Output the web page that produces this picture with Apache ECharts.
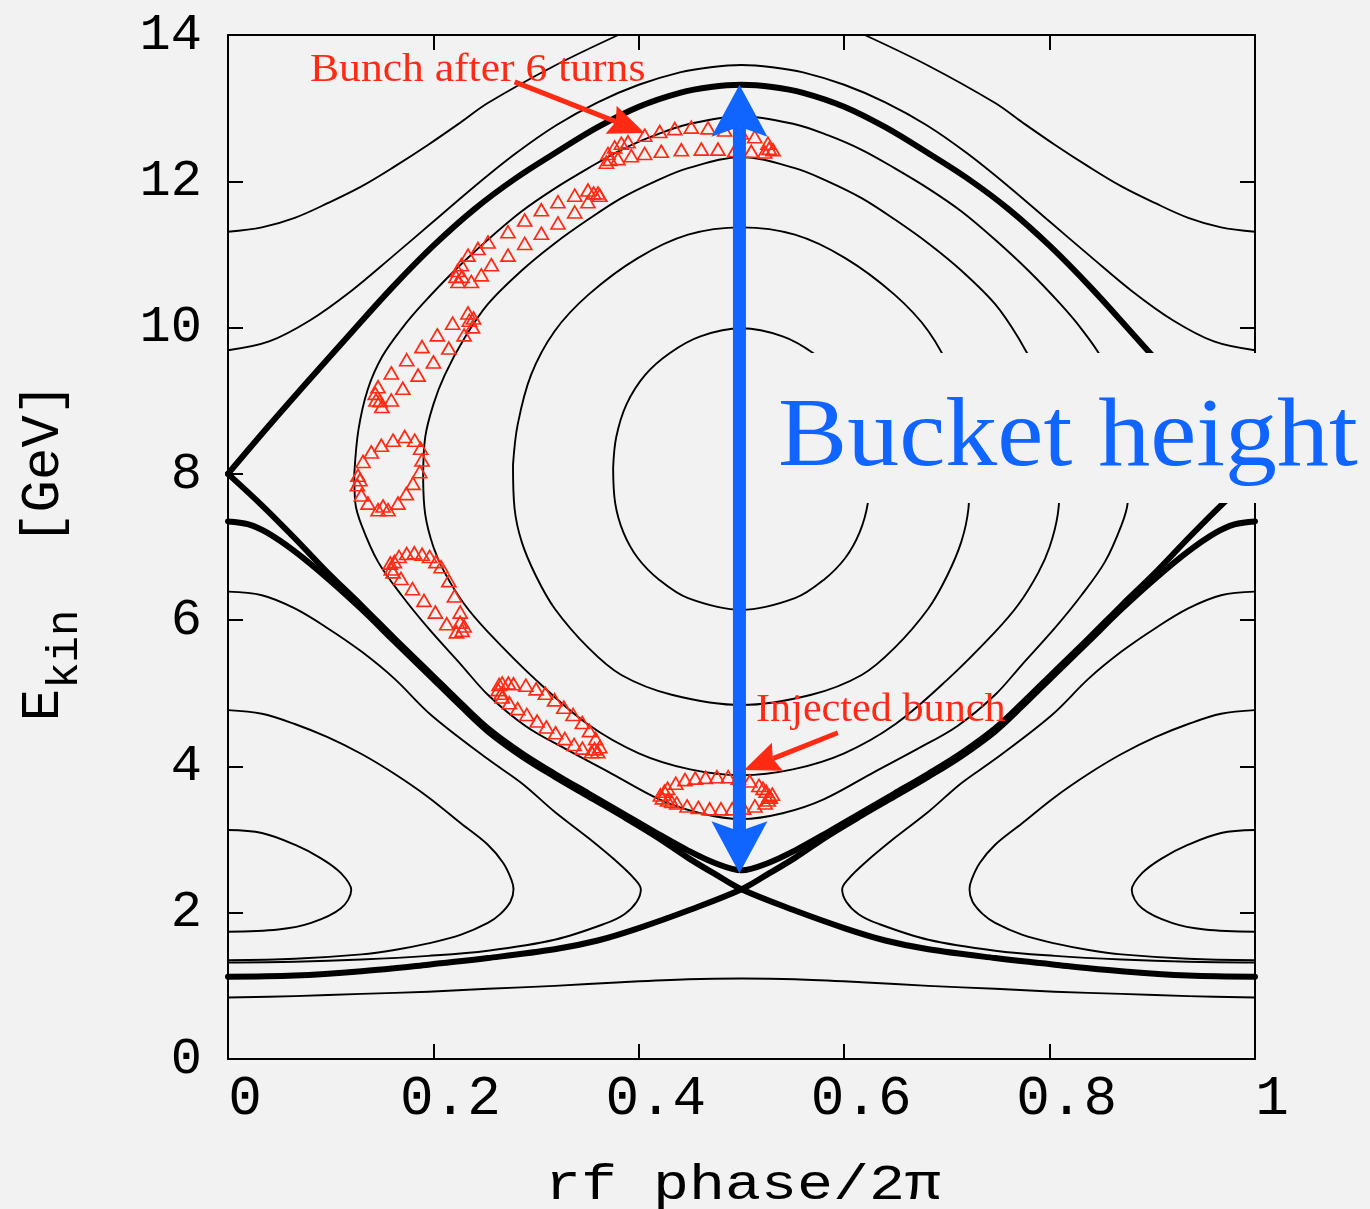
<!DOCTYPE html>
<html><head><meta charset="utf-8">
<script src="https://cdn.jsdelivr.net/npm/echarts@6/dist/echarts.min.js"></script>
<style>html,body{margin:0;padding:0;background:#f2f2f2;} #c{width:1370px;height:1209px;}</style>
</head><body><div id="c"></div>
<script>
// ---------- axis ticks ----------
const xTicks = [0, 0.2, 0.4, 0.6, 0.8, 1];
const yTicks = [0, 2, 4, 6, 8, 10, 12, 14];

// ---------- phase-space trajectories [phase/2pi, E_kin GeV] ----------
// passing orbits above the bucket
const passTopLeft = [[0,11.31],[0.033,11.37],[0.065,11.5],[0.097,11.7],[0.13,11.93],[0.162,12.2],[0.195,12.5],[0.227,12.81],[0.253,13.07],[0.318,13.58],[0.38,14.0]];
const passTopRight = [[0.62,14.0],[0.682,13.58],[0.747,13.07],[0.773,12.81],[0.805,12.5],[0.838,12.2],[0.87,11.93],[0.903,11.7],[0.935,11.5],[0.967,11.37],[1,11.31]];
const passUpper = [[0,9.69],[0.04,9.81],[0.08,10.1],[0.12,10.5],[0.16,10.97],[0.2,11.45],[0.24,11.93],[0.28,12.38],[0.32,12.77],[0.36,13.08],[0.4,13.32],[0.44,13.49],[0.47,13.56],[0.5,13.59],[0.53,13.56],[0.56,13.49],[0.6,13.32],[0.64,13.08],[0.68,12.77],[0.72,12.38],[0.76,11.93],[0.8,11.45],[0.84,10.97],[0.88,10.5],[0.92,10.1],[0.96,9.81],[1,9.69]];
// passing orbit below everything
const passLow = [[0,0.84],[0.065,0.86],[0.13,0.89],[0.195,0.92],[0.253,0.96],[0.318,1.0],[0.383,1.05],[0.448,1.09],[0.5,1.1],[0.552,1.09],[0.617,1.05],[0.682,1.0],[0.747,0.96],[0.805,0.92],[0.87,0.89],[0.935,0.86],[1,0.84]];

// separatrices (thick)
const sepBucketTop = [[0,8.0],[0.04,8.66],[0.08,9.3],[0.12,9.93],[0.16,10.55],[0.2,11.12],[0.24,11.62],[0.28,12.04],[0.32,12.4],[0.36,12.74],[0.4,13.02],[0.44,13.21],[0.47,13.29],[0.5,13.32],[0.53,13.29],[0.56,13.21],[0.6,13.02],[0.64,12.74],[0.68,12.4],[0.72,12.04],[0.76,11.62],[0.8,11.12],[0.84,10.55],[0.88,9.93],[0.92,9.3],[0.96,8.66],[1,8.0]];
const sepBucketBottom = [[0,8.0],[0.033,7.57],[0.065,7.12],[0.097,6.65],[0.13,6.2],[0.162,5.75],[0.195,5.3],[0.227,4.86],[0.253,4.52],[0.286,4.18],[0.318,3.9],[0.351,3.63],[0.383,3.37],[0.416,3.1],[0.448,2.85],[0.474,2.68],[0.5,2.58],[0.526,2.68],[0.552,2.85],[0.584,3.1],[0.617,3.37],[0.649,3.63],[0.682,3.9],[0.714,4.18],[0.747,4.52],[0.773,4.86],[0.805,5.3],[0.838,5.75],[0.87,6.2],[0.903,6.65],[0.935,7.12],[0.967,7.57],[1,8.0]];
const sepLowerA = [[0,7.35],[0.02,7.31],[0.039,7.19],[0.065,6.94],[0.097,6.57],[0.13,6.15],[0.162,5.71],[0.195,5.26],[0.227,4.82],[0.253,4.48],[0.286,4.14],[0.318,3.86],[0.351,3.59],[0.383,3.33],[0.416,3.05],[0.448,2.75],[0.474,2.53],[0.5,2.32],[0.55,2.04],[0.6,1.79],[0.64,1.62],[0.682,1.5],[0.747,1.38],[0.805,1.29],[0.87,1.2],[0.935,1.14],[1,1.125]];
const sepLowerB = [[0,1.125],[0.065,1.14],[0.13,1.2],[0.195,1.29],[0.253,1.38],[0.318,1.5],[0.36,1.62],[0.4,1.79],[0.45,2.04],[0.5,2.32],[0.526,2.53],[0.552,2.75],[0.584,3.05],[0.617,3.33],[0.649,3.59],[0.682,3.86],[0.714,4.14],[0.747,4.48],[0.773,4.82],[0.805,5.26],[0.838,5.71],[0.87,6.15],[0.903,6.57],[0.935,6.94],[0.961,7.19],[0.98,7.31],[1,7.35]];

// closed orbits inside the main bucket
const orbit1 = [[0.123,8.0],[0.127,8.6],[0.136,9.15],[0.15,9.6],[0.17,10.0],[0.19,10.33],[0.22,10.77],[0.253,11.2],[0.286,11.59],[0.318,11.9],[0.351,12.18],[0.383,12.43],[0.416,12.63],[0.448,12.78],[0.5,12.89],[0.552,12.78],[0.584,12.63],[0.617,12.43],[0.649,12.18],[0.682,11.9],[0.714,11.59],[0.747,11.2],[0.78,10.77],[0.81,10.33],[0.83,10.0],[0.85,9.6],[0.864,9.15],[0.873,8.6],[0.877,8.0],[0.876,7.6],[0.87,7.3],[0.854,6.8],[0.831,6.34],[0.805,5.89],[0.773,5.39],[0.747,4.98],[0.71,4.55],[0.67,4.23],[0.63,3.93],[0.58,3.55],[0.54,3.36],[0.5,3.28],[0.46,3.36],[0.42,3.55],[0.37,3.93],[0.33,4.23],[0.29,4.55],[0.253,4.98],[0.227,5.39],[0.195,5.89],[0.169,6.34],[0.146,6.8],[0.13,7.3],[0.124,7.6],[0.123,8.0]];
const orbit2 = [[0.19,7.95],[0.192,8.5],[0.2,8.95],[0.211,9.35],[0.23,9.85],[0.253,10.32],[0.286,10.78],[0.318,11.15],[0.351,11.48],[0.383,11.77],[0.416,12.0],[0.448,12.18],[0.5,12.33],[0.552,12.18],[0.584,12.0],[0.617,11.77],[0.649,11.48],[0.682,11.15],[0.714,10.78],[0.747,10.32],[0.77,9.85],[0.789,9.35],[0.8,8.95],[0.808,8.5],[0.81,7.95],[0.808,7.45],[0.8,7.0],[0.789,6.65],[0.77,6.22],[0.747,5.84],[0.7,5.18],[0.65,4.58],[0.6,4.18],[0.55,3.96],[0.5,3.88],[0.45,3.96],[0.4,4.18],[0.35,4.58],[0.3,5.18],[0.253,5.84],[0.23,6.22],[0.211,6.65],[0.2,7.0],[0.192,7.45],[0.19,7.95]];
const orbit3 = [[0.2775,8.12],[0.282,8.67],[0.295,9.35],[0.318,9.95],[0.351,10.45],[0.399,10.95],[0.448,11.27],[0.5,11.37],[0.552,11.27],[0.601,10.95],[0.649,10.45],[0.682,9.95],[0.705,9.35],[0.718,8.67],[0.7225,8.12],[0.721,7.53],[0.714,7.07],[0.7,6.6],[0.682,6.16],[0.649,5.62],[0.617,5.25],[0.568,4.98],[0.5,4.84],[0.432,4.98],[0.383,5.25],[0.351,5.62],[0.318,6.16],[0.3,6.6],[0.286,7.07],[0.279,7.53],[0.2775,8.12]];
const orbit4 = [[0.375,8.08],[0.378,8.5],[0.388,8.95],[0.406,9.35],[0.43,9.65],[0.46,9.88],[0.5,9.99],[0.54,9.88],[0.57,9.65],[0.594,9.35],[0.612,8.95],[0.622,8.5],[0.625,8.08],[0.623,7.6],[0.615,7.2],[0.601,6.85],[0.58,6.55],[0.552,6.3],[0.5,6.14],[0.448,6.3],[0.42,6.55],[0.399,6.85],[0.385,7.2],[0.377,7.6],[0.375,8.08]];

// closed orbits of the lower bucket (centred on phase 0 / 1)
const low1Left = [[0,6.39],[0.033,6.34],[0.065,6.16],[0.097,5.89],[0.13,5.57],[0.162,5.2],[0.198,4.7],[0.253,4.1],[0.286,3.77],[0.318,3.38],[0.351,3.02],[0.38,2.68],[0.396,2.46],[0.402,2.32],[0.398,2.15],[0.386,1.98],[0.367,1.85],[0.318,1.63],[0.253,1.48],[0.195,1.41],[0.13,1.36],[0.065,1.33],[0,1.32]];
const low1Right = [[1,6.39],[0.967,6.34],[0.935,6.16],[0.903,5.89],[0.87,5.57],[0.838,5.2],[0.802,4.7],[0.747,4.1],[0.714,3.77],[0.682,3.38],[0.649,3.02],[0.62,2.68],[0.604,2.46],[0.598,2.32],[0.602,2.15],[0.614,1.98],[0.633,1.85],[0.682,1.63],[0.747,1.48],[0.805,1.41],[0.87,1.36],[0.935,1.33],[1,1.32]];
const low2Left = [[0,4.77],[0.033,4.72],[0.065,4.58],[0.097,4.4],[0.13,4.17],[0.162,3.9],[0.195,3.58],[0.227,3.22],[0.253,2.93],[0.268,2.68],[0.276,2.45],[0.278,2.32],[0.275,2.15],[0.265,1.98],[0.253,1.86],[0.227,1.7],[0.195,1.58],[0.162,1.49],[0.13,1.43],[0.065,1.37],[0,1.35]];
const low2Right = [[1,4.77],[0.967,4.72],[0.935,4.58],[0.903,4.4],[0.87,4.17],[0.838,3.9],[0.805,3.58],[0.773,3.22],[0.747,2.93],[0.732,2.68],[0.724,2.45],[0.722,2.32],[0.725,2.15],[0.735,1.98],[0.747,1.86],[0.773,1.7],[0.805,1.58],[0.838,1.49],[0.87,1.43],[0.935,1.37],[1,1.35]];
const low3Left = [[0,3.13],[0.033,3.09],[0.065,2.93],[0.091,2.74],[0.11,2.54],[0.12,2.31],[0.11,2.06],[0.081,1.86],[0.049,1.77],[0,1.74]];
const low3Right = [[1,3.13],[0.967,3.09],[0.935,2.93],[0.909,2.74],[0.89,2.54],[0.88,2.31],[0.89,2.06],[0.919,1.86],[0.951,1.77],[1,1.74]];

// ---------- tracked bunch (red triangles), turn 0 .. 6 ----------
const bunchTurn0 = [[0.421,3.61],[0.428,3.7],[0.436,3.77],[0.445,3.82],[0.455,3.84],[0.465,3.85],[0.476,3.86],[0.487,3.86],[0.497,3.84],[0.508,3.8],[0.517,3.74],[0.524,3.66],[0.528,3.58],[0.53,3.62],[0.526,3.54],[0.523,3.5],[0.513,3.46],[0.502,3.43],[0.491,3.42],[0.48,3.42],[0.469,3.42],[0.458,3.44],[0.447,3.46],[0.437,3.5],[0.428,3.54],[0.423,3.57],[0.425,3.66],[0.432,3.52],[0.521,3.7],[0.527,3.6]];
const bunchTurn1 = [[0.267,5.14],[0.273,5.14],[0.278,5.13],[0.29,5.11],[0.3,5.06],[0.309,5.0],[0.318,4.91],[0.327,4.81],[0.336,4.71],[0.345,4.6],[0.352,4.49],[0.358,4.38],[0.362,4.27],[0.36,4.2],[0.357,4.24],[0.354,4.2],[0.345,4.25],[0.337,4.3],[0.328,4.38],[0.319,4.46],[0.31,4.54],[0.301,4.62],[0.291,4.71],[0.282,4.79],[0.274,4.87],[0.267,4.95],[0.263,5.05],[0.264,5.12],[0.266,5.0]];
const bunchTurn2 = [[0.159,6.7],[0.1665,6.87],[0.174,6.91],[0.1814,6.92],[0.189,6.9],[0.1963,6.87],[0.2025,6.8],[0.2075,6.73],[0.215,6.54],[0.2205,6.33],[0.2261,6.11],[0.2299,5.92],[0.228,5.86],[0.2224,5.84],[0.226,5.97],[0.213,5.95],[0.2019,6.11],[0.1908,6.27],[0.1796,6.43],[0.1684,6.57],[0.1607,6.66],[0.158,6.78],[0.162,6.8]];
const bunchTurn3 = [[0.1266,7.98],[0.1315,8.17],[0.1395,8.3],[0.1493,8.39],[0.1607,8.46],[0.1721,8.51],[0.1818,8.46],[0.1876,8.35],[0.1889,8.19],[0.1867,8.03],[0.1801,7.87],[0.1736,7.73],[0.1655,7.6],[0.1558,7.51],[0.1461,7.51],[0.1363,7.6],[0.1298,7.71],[0.1259,7.85],[0.1285,7.92],[0.151,7.56]];
const bunchTurn4 = [[0.1461,9.19],[0.159,9.38],[0.174,9.56],[0.1889,9.74],[0.2038,9.9],[0.2187,10.06],[0.2336,10.2],[0.2391,10.13],[0.2381,10.01],[0.2299,9.9],[0.215,9.72],[0.2,9.53],[0.1851,9.35],[0.1702,9.17],[0.159,9.01],[0.1498,8.92],[0.1441,9.01],[0.1434,9.1],[0.148,9.0],[0.235,10.1]];
const bunchTurn5 = [[0.222,10.7],[0.2272,10.86],[0.2337,10.99],[0.2434,11.08],[0.2532,11.17],[0.2726,11.31],[0.2889,11.47],[0.3051,11.61],[0.3213,11.72],[0.3376,11.81],[0.3505,11.88],[0.3603,11.84],[0.3619,11.81],[0.3505,11.72],[0.3376,11.58],[0.3213,11.43],[0.3051,11.29],[0.2889,11.15],[0.2726,10.99],[0.2564,10.86],[0.2466,10.72],[0.2369,10.63],[0.224,10.63],[0.2235,10.78],[0.228,10.7],[0.356,11.84]];
const bunchTurn6 = [[0.3895,12.54],[0.4057,12.63],[0.4204,12.68],[0.435,12.72],[0.4511,12.74],[0.4674,12.73],[0.4836,12.7],[0.4998,12.66],[0.5129,12.61],[0.5258,12.52],[0.5307,12.43],[0.5226,12.4],[0.5095,12.41],[0.4934,12.42],[0.4771,12.44],[0.4609,12.44],[0.4414,12.43],[0.4219,12.41],[0.4057,12.38],[0.3927,12.35],[0.3797,12.31],[0.3684,12.26],[0.37,12.38],[0.3765,12.47],[0.383,12.52],[0.372,12.3],[0.527,12.45]];

// ---------- annotation arrows [x1, y1, x2(tip), y2(tip)] ----------
const bucketHeightArrow = [[0.498, 2.54, 0.498, 13.32]];
const labelArrows = [[0.2791, 13.36, 0.4057, 12.66], [0.5938, 4.46, 0.5024, 3.95]];

const BG = '#f2f2f2';
const RED = '#ff2a14';
const BLUE = '#1064ff';

function curve(data, thick) {
  return { type: 'line', data: data, symbol: 'none', smooth: 0.35, silent: true, z: 3,
    lineStyle: { color: '#000', width: thick ? 6 : 1.9, cap: 'round', join: 'round' } };
}
function bunch(data) {
  return { type: 'scatter', data: data, symbol: 'triangle', symbolSize: [14, 12], silent: true, z: 5,
    itemStyle: { color: 'rgba(0,0,0,0)', borderColor: RED, borderWidth: 1.7, opacity: 1 } };
}
function head(tip, from, len, notch, hw) {
  const dx = tip[0] - from[0], dy = tip[1] - from[1], L = Math.hypot(dx, dy);
  const ux = dx / L, uy = dy / L, nx = -uy, ny = ux;
  const bx = tip[0] - ux * len, by = tip[1] - uy * len;
  const n = [tip[0] - ux * notch, tip[1] - uy * notch];
  return { pts: [tip, [bx + nx * hw, by + ny * hw], n, [bx - nx * hw, by - ny * hw]], notch: n };
}
function arrowSeries(data, color, width, len, notch, hw, both) {
  return {
    type: 'custom', data: data, silent: true, z: 8, clip: false,
    dimensions: ['x1', 'y1', 'x2', 'y2'], encode: { x: [0, 2], y: [1, 3] },
    renderItem: function (params, api) {
      const p1 = api.coord([api.value(0), api.value(1)]);
      const p2 = api.coord([api.value(2), api.value(3)]);
      const h2 = head(p2, p1, len, notch, hw);
      let start = p1;
      const children = [];
      if (both) {
        const h1 = head(p1, p2, len, notch, hw);
        start = h1.notch;
        children.push({ type: 'polygon', shape: { points: h1.pts }, style: { fill: color } });
      }
      children.unshift({ type: 'line', shape: { x1: start[0], y1: start[1], x2: h2.notch[0], y2: h2.notch[1] },
        style: { stroke: color, lineWidth: width, lineCap: 'butt' } });
      children.push({ type: 'polygon', shape: { points: h2.pts }, style: { fill: color } });
      return { type: 'group', children: children };
    }
  };
}

const axisCommon = {
  type: 'value', splitLine: { show: false },
  axisLine: { show: true, onZero: false, lineStyle: { color: '#000', width: 2 } },
  axisTick: { show: true, inside: true, length: 15, lineStyle: { color: '#000', width: 2 } }
};

const chart = echarts.init(document.getElementById('c'), null, { renderer: 'canvas' });
chart.setOption({
  animation: false,
  backgroundColor: BG,
  grid: { left: 228, top: 35, width: 1027, height: 1024, containLabel: false },
  xAxis: [
    Object.assign({}, axisCommon, { position: 'bottom', min: 0, max: 1, interval: 0.2,
      axisLabel: { show: true, margin: 12, fontFamily: 'Liberation Mono', fontSize: 56, color: '#000', padding: [0, 0, 0, 34],
        formatter: v => String(+v.toFixed(1)) } }),
    Object.assign({}, axisCommon, { position: 'top', min: 0, max: 1, interval: 0.2, axisLabel: { show: false } })
  ],
  yAxis: [
    Object.assign({}, axisCommon, { position: 'left', min: 0, max: 14, interval: 2,
      axisLabel: { show: true, margin: 26, fontFamily: 'Liberation Mono', fontSize: 52, color: '#000' } }),
    Object.assign({}, axisCommon, { position: 'right', min: 0, max: 14, interval: 2, axisLabel: { show: false } })
  ],
  series: [
    curve(passTopLeft), curve(passTopRight), curve(passUpper), curve(passLow),
    curve(orbit1), curve(orbit2), curve(orbit3), curve(orbit4),
    curve(low1Left), curve(low1Right), curve(low2Left), curve(low2Right), curve(low3Left), curve(low3Right),
    curve(sepBucketTop, true), curve(sepBucketBottom, true), curve(sepLowerA, true), curve(sepLowerB, true),
    bunch(bunchTurn0), bunch(bunchTurn1), bunch(bunchTurn2), bunch(bunchTurn3), bunch(bunchTurn4), bunch(bunchTurn5), bunch(bunchTurn6),
    arrowSeries(labelArrows, RED, 5, 36, 31, 15, false),
    arrowSeries(bucketHeightArrow, BLUE, 13, 52, 42, 28, true)
  ],
  graphic: [
    { type: 'rect', z: 100, shape: { x: 764, y: 353, width: 606, height: 150 }, style: { fill: BG } },
    { type: 'text', z: 101, x: 778, y: 439, scaleX: 1.06, originX: 0, originY: 0,
      style: { text: 'Bucket height', fill: BLUE, font: '98px "Liberation Serif"', align: 'left', verticalAlign: 'middle' } },
    { type: 'text', z: 101, x: 310, y: 70, scaleX: 1.09, originX: 0, originY: 0,
      style: { text: 'Bunch after 6 turns', fill: RED, font: '40px "Liberation Serif"', align: 'left', verticalAlign: 'middle' } },
    { type: 'text', z: 101, x: 756, y: 710, scaleX: 1.055, originX: 0, originY: 0,
      style: { text: 'Injected bunch', fill: RED, font: '40px "Liberation Serif"', align: 'left', verticalAlign: 'middle' } },
    { type: 'text', z: 101, x: 743, y: 1186, scaleX: 1.2, originX: 0, originY: 0,
      style: { text: 'rf phase/2\u03c0', fill: '#000', font: '50px "Liberation Mono"', align: 'center', verticalAlign: 'middle' } },
    { type: 'text', z: 101, x: 52, y: 552, rotation: Math.PI / 2, originX: 0, originY: 0,
      style: { text: '{e|E}{s|kin}{e|  [GeV]}', align: 'center', verticalAlign: 'middle', fill: '#000',
        rich: { e: { fontFamily: 'Liberation Mono', fontSize: 54, verticalAlign: 'bottom', padding: [0, 0, 16, 0] },
                s: { fontFamily: 'Liberation Mono', fontSize: 44, verticalAlign: 'bottom' } } } }
  ]
});
</script></body></html>
